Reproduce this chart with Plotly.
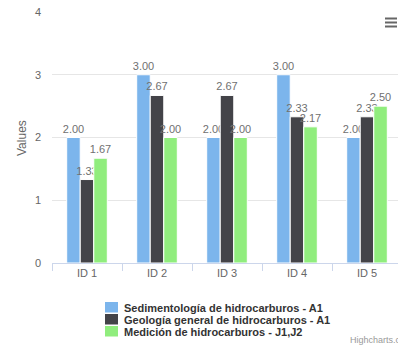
import plotly.graph_objects as go

categories = ["ID 1", "ID 2", "ID 3", "ID 4", "ID 5"]
series_names = [
    "Sedimentología de hidrocarburos - A1",
    "Geología general de hidrocarburos - A1",
    "Medición de hidrocarburos - J1,J2",
]
sedimentologia = [2.00, 3.00, 2.00, 3.00, 2.00]
geologia = [1.33, 2.67, 2.67, 2.33, 2.33]
medicion = [1.67, 2.00, 2.00, 2.17, 2.50]
colors = ["#7cb5ec", "#434348", "#90ed7d"]
y_ticks = [0, 1, 2, 3, 4]

W, H = 398, 345
L, R, T, B = 52, 0, 12, 82
PW = W - L - R
PH = H - T - B

def px_x(px):
    return (px - L) / PW

def px_y(py):
    return (H - B - py) / PH

xs = list(range(len(categories)))
fig = go.Figure()
for name, vals, col in zip(series_names, [sedimentologia, geologia, medicion], colors):
    fig.add_trace(go.Bar(
        x=xs, y=vals, name=name,
        marker=dict(color=col, line=dict(color="#ffffff", width=1)),
        text=[f"{v:.2f}" for v in vals], textposition="outside",
        textfont=dict(family="Liberation Sans, Arial", size=11, color="#707070"),
        constraintext="none", cliponaxis=False, showlegend=False,
    ))

fig.update_layout(
    width=W, height=H, margin=dict(l=L, r=R, t=T, b=B, autoexpand=False),
    paper_bgcolor="#ffffff", plot_bgcolor="#ffffff",
    barmode="group", bargap=0.42, bargroupgap=0.0,
    font=dict(family="Liberation Sans, Arial", size=11, color="#666666"),
    showlegend=False,
    xaxis=dict(
        range=[-0.5, -0.5 + PW / 70.0],
        tickmode="array", tickvals=xs, ticktext=categories,
        ticks="", showgrid=False, zeroline=False,
        showline=True, linecolor="#ccd6eb", linewidth=1,
        tickfont=dict(size=11, color="#666666"),
        minor=dict(tickmode="linear", tick0=0.5, dtick=1, ticks="outside",
                   ticklen=7, tickcolor="#ccd6eb", tickwidth=1, showgrid=False),
        fixedrange=True,
    ),
    yaxis=dict(
        range=[0, 4], tickmode="array", tickvals=y_ticks,
        ticktext=[str(v) for v in y_ticks],
        showgrid=True, gridcolor="#e6e6e6", gridwidth=1,
        zeroline=False, showline=False, ticks="",
        ticklabelstandoff=10,
        tickfont=dict(size=11, color="#666666"),
        fixedrange=True,
    ),
)

# y-axis title
fig.add_annotation(text="Values", xref="paper", yref="paper",
                   x=px_x(22), y=px_y(138), xanchor="center", yanchor="middle",
                   textangle=-90, showarrow=False,
                   font=dict(size=12, color="#666666"))

# manual legend
leg_rows = [307.5, 319.5, 331.5]
for name, col, ry in zip(series_names, colors, leg_rows):
    fig.add_shape(type="rect", xref="paper", yref="paper",
                  x0=px_x(105), x1=px_x(118), y0=px_y(ry - 5.5), y1=px_y(ry + 5),
                  fillcolor=col, line=dict(width=0))
    fig.add_annotation(text="<b>" + name + "</b>", xref="paper", yref="paper",
                       x=px_x(122), y=px_y(ry), xanchor="left", yanchor="middle",
                       showarrow=False,
                       font=dict(size=11, color="#333333"))

# credits
fig.add_annotation(text="Highcharts.com", xref="paper", yref="paper",
                   x=px_x(348), y=px_y(340), xanchor="left", yanchor="middle",
                   showarrow=False, font=dict(size=9, color="#999999"))

# context menu icon
for yy in [18.5, 22.5, 26.5]:
    fig.add_shape(type="line", xref="paper", yref="paper",
                  x0=px_x(385), x1=px_x(397), y0=px_y(yy), y1=px_y(yy),
                  line=dict(color="#666666", width=2))

fig.write_html("out.html", config={"displayModeBar": False})
